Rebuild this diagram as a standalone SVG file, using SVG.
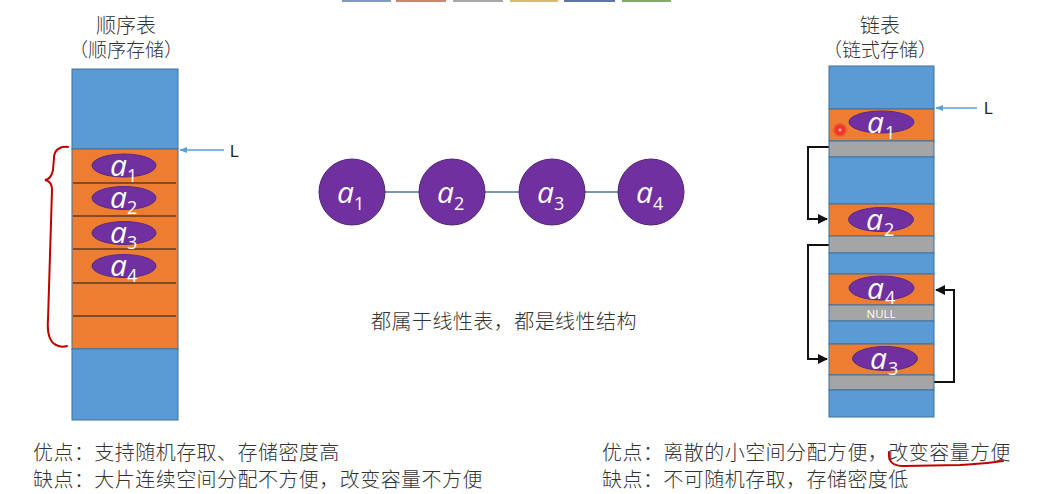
<svg xmlns="http://www.w3.org/2000/svg" width="1044" height="494" viewBox="0 0 1044 494">
<defs>
<style>
.cjk{font-family:"Noto Sans CJK SC","Noto Sans",sans-serif;fill:#333;font-weight:300;}
.blue{fill:#5b9bd5;stroke:#41719c;stroke-width:1;}
.orange{fill:#ed7d31;stroke:#41719c;stroke-width:1;}
.gray{fill:#a5a5a5;stroke:#41719c;stroke-width:1;}
.ell{fill:#7030a0;stroke:#5b2a85;stroke-width:1;}
.av{font-family:"Open Sans","Noto Sans","Liberation Sans",sans-serif;font-style:italic;fill:#ffffff;font-size:30px;}
.sub{font-style:normal;font-size:18px;}
.sep{stroke:#1a1a1a;stroke-width:1.2;}
.ptr{fill:none;stroke:#111;stroke-width:2;}
.lptr{stroke:#5aa0d0;stroke-width:1.3;}
.lbl{font-family:"Liberation Sans",Arial,sans-serif;font-size:16px;fill:#222;}
.red{fill:none;stroke:#c00000;stroke-width:2;stroke-linecap:round;}
.note{font-size:20px;letter-spacing:0.45px;}
</style>
<marker id="ah" viewBox="0 0 10 10" refX="9" refY="5" markerWidth="5" markerHeight="5" orient="auto"><path d="M0 0 L10 5 L0 10 z" fill="#111"/></marker>
<marker id="ahb" viewBox="0 0 10 10" refX="9" refY="5" markerWidth="6" markerHeight="6" orient="auto"><path d="M0 1 L10 5 L0 9 z" fill="#5aa0d0"/></marker>
<radialGradient id="dot"><stop offset="0" stop-color="#ffffff"/><stop offset="0.25" stop-color="#ff3030"/><stop offset="0.6" stop-color="#e02020" stop-opacity="0.7"/><stop offset="1" stop-color="#ff4040" stop-opacity="0"/></radialGradient>
</defs>
<rect width="1044" height="494" fill="#ffffff"/>
<g id="topbar">
<rect x="342" y="0" width="49" height="2" fill="#7f9cc0"/>
<rect x="396" y="0" width="50" height="2" fill="#c8876e"/>
<rect x="453" y="0" width="50" height="2" fill="#a8a8a8"/>
<rect x="510" y="0" width="48" height="2" fill="#d6bb6c"/>
<rect x="564" y="0" width="51" height="2" fill="#5d74a6"/>
<rect x="622" y="0" width="49" height="2" fill="#80ad6c"/>
</g>
<g id="seq-title">
<text class="cjk" x="126" y="33" font-size="20" text-anchor="middle">顺序表</text>
<text class="cjk" x="126" y="57" font-size="19" text-anchor="middle">（顺序存储）</text>
</g>
<g id="seq-table">
<rect class="blue" x="72" y="69" width="106" height="80"/>
<rect class="orange" x="72" y="149" width="106" height="200"/>
<rect class="blue" x="72" y="349" width="106" height="71"/>
<line class="sep" x1="73" y1="183" x2="176" y2="183"/>
<line class="sep" x1="73" y1="216" x2="176" y2="216"/>
<line class="sep" x1="73" y1="249" x2="176" y2="249"/>
<line class="sep" x1="73" y1="283" x2="176" y2="283"/>
<line class="sep" x1="73" y1="316" x2="176" y2="316"/>
</g>
<g id="seq-a1"><ellipse class="ell" cx="124" cy="165.5" rx="32" ry="11.5"/><text class="av" x="110" y="176">a<tspan class="sub" dy="6">1</tspan></text></g>
<g id="seq-a2"><ellipse class="ell" cx="124" cy="198" rx="32" ry="11.5"/><text class="av" x="110" y="208">a<tspan class="sub" dy="6">2</tspan></text></g>
<g id="seq-a3"><ellipse class="ell" cx="124" cy="233" rx="32" ry="11.5"/><text class="av" x="110" y="243">a<tspan class="sub" dy="6">3</tspan></text></g>
<g id="seq-a4"><ellipse class="ell" cx="124" cy="266" rx="32" ry="11.5"/><text class="av" x="110" y="276">a<tspan class="sub" dy="6">4</tspan></text></g>
<g id="seq-L">
<line class="lptr" x1="224" y1="150" x2="180" y2="150" marker-end="url(#ahb)"/>
<text class="lbl" x="230" y="157">L</text>
</g>
<g id="brace">
<path class="red" d="M68 147 C60 146 54 150 54 158 L53 170 C52 176 50 179 45 180 C50 181 52 184 52 190 L48 320 C47 333 50 342 56 345 C60 347 64 347 67 346"/>
</g>
<g id="connectors">
<line x1="385" y1="192" x2="419" y2="192" stroke="#7b98ae" stroke-width="2"/>
<line x1="485" y1="192" x2="519" y2="192" stroke="#7b98ae" stroke-width="2"/>
<line x1="585" y1="192" x2="618" y2="192" stroke="#7b98ae" stroke-width="2"/>
<path class="ptr" d="M829 147 L808 147 L808 219 L827 219" marker-end="url(#ah)"/>
<path class="ptr" d="M829 245 L808 245 L808 359 L827 359" marker-end="url(#ah)"/>
<path class="ptr" d="M934 382 L954 382 L954 290 L936 290" marker-end="url(#ah)"/>
</g>
<g id="chain-a1"><circle cx="352" cy="192" r="33" fill="#7030a0" stroke="#4e2272"/><text class="av" x="337" y="203" font-size="28">a<tspan class="sub" dy="7">1</tspan></text></g>
<g id="chain-a2"><circle cx="452" cy="192" r="33" fill="#7030a0" stroke="#4e2272"/><text class="av" x="437" y="203" font-size="28">a<tspan class="sub" dy="7">2</tspan></text></g>
<g id="chain-a3"><circle cx="552" cy="192" r="33" fill="#7030a0" stroke="#4e2272"/><text class="av" x="537" y="203" font-size="28">a<tspan class="sub" dy="7">3</tspan></text></g>
<g id="chain-a4"><circle cx="651" cy="192" r="33" fill="#7030a0" stroke="#4e2272"/><text class="av" x="636" y="203" font-size="28">a<tspan class="sub" dy="7">4</tspan></text></g>
<g id="middle-note">
<text class="cjk note" x="504" y="329" text-anchor="middle" letter-spacing="0.6">都属于线性表，都是线性结构</text>
</g>
<g id="link-title">
<text class="cjk" x="880" y="33" font-size="20" text-anchor="middle">链表</text>
<text class="cjk" x="880" y="57" font-size="19" text-anchor="middle">（链式存储）</text>
</g>
<g id="link-table">
<rect class="blue" x="829" y="66" width="105" height="43"/>
<rect class="orange" x="829" y="109" width="105" height="32"/>
<rect class="gray" x="829" y="141" width="105" height="16"/>
<rect class="blue" x="829" y="157" width="105" height="47"/>
<rect class="orange" x="829" y="204" width="105" height="32"/>
<rect class="gray" x="829" y="236" width="105" height="17"/>
<rect class="blue" x="829" y="253" width="105" height="21"/>
<rect class="orange" x="829" y="274" width="105" height="31"/>
<rect class="gray" x="829" y="305" width="105" height="16"/>
<rect class="blue" x="829" y="321" width="105" height="23"/>
<rect class="orange" x="829" y="344" width="105" height="31"/>
<rect class="gray" x="829" y="375" width="105" height="15"/>
<rect class="blue" x="829" y="390" width="105" height="27"/>
<text x="881" y="317.5" font-family="'Open Sans','Liberation Sans',sans-serif" font-size="11.5" fill="#ffffff" text-anchor="middle">NULL</text>
</g>
<g id="link-a1"><ellipse class="ell" cx="881.5" cy="122" rx="32.5" ry="11"/><text class="av" x="867" y="133">a<tspan class="sub" dx="1" dy="6">1</tspan></text></g>
<g id="link-a2"><ellipse class="ell" cx="881" cy="219.5" rx="32.5" ry="12"/><text class="av" x="866" y="230">a<tspan class="sub" dx="1" dy="6">2</tspan></text></g>
<g id="link-a4"><ellipse class="ell" cx="881.5" cy="288" rx="32.5" ry="12"/><text class="av" x="867" y="298.5">a<tspan class="sub" dx="1" dy="5">4</tspan></text></g>
<g id="link-a3"><ellipse class="ell" cx="885" cy="358.5" rx="32.5" ry="12"/><text class="av" x="870" y="369">a<tspan class="sub" dx="1" dy="6">3</tspan></text></g>
<g id="link-L">
<line class="lptr" x1="977" y1="108" x2="936" y2="108" marker-end="url(#ahb)"/>
<text class="lbl" x="984" y="114">L</text>
</g>
<circle id="pointer-dot" cx="840" cy="130" r="8" fill="url(#dot)"/>
<g id="notes-left">
<text class="cjk note" x="33" y="460">优点：支持随机存取、存储密度高</text>
<text class="cjk note" x="33" y="487">缺点：大片连续空间分配不方便，改变容量不方便</text>
</g>
<g id="notes-right">
<text class="cjk note" x="602" y="460">优点：离散的小空间分配方便，改变容量方便</text>
<text class="cjk note" x="602" y="487">缺点：不可随机存取，存储密度低</text>
<path class="red" d="M889 452 C888 461 892 466 904 466 L960 465 C980 464 994 462 1003 461" stroke-width="1.8"/>
</g>
</svg>
